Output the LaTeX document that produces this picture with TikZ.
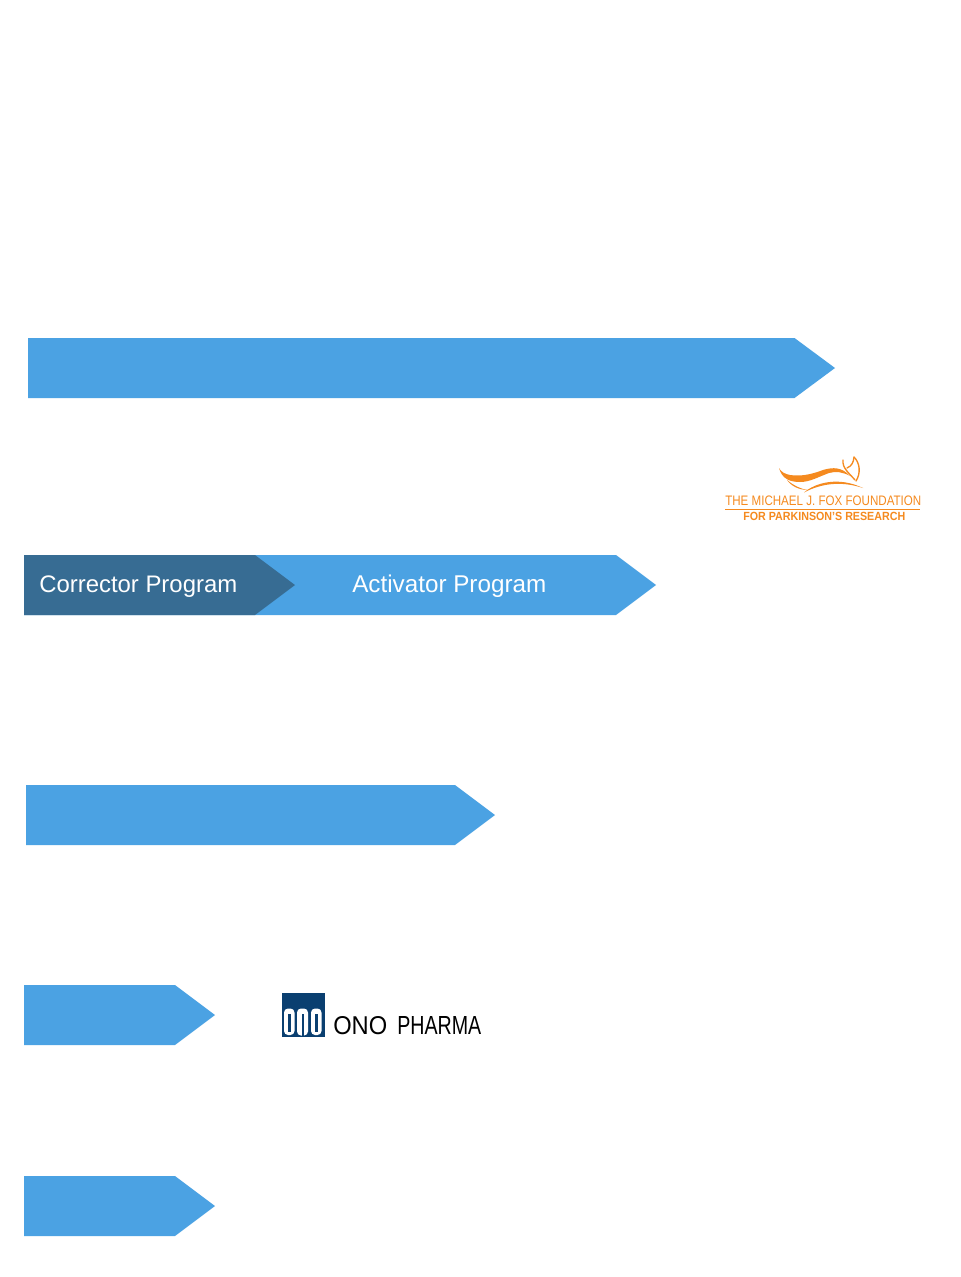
\documentclass[tikz,border=0pt]{standalone}
\usepackage{fontspec}
\setmainfont{Liberation Sans}
\definecolor{arrowblue}{HTML}{4BA2E3}
\definecolor{darkblue}{HTML}{376C93}
\definecolor{foxorange}{HTML}{F58A1F}
\definecolor{onoblue}{HTML}{0A3F70}
\begin{document}
\begin{tikzpicture}[x=0.75pt,y=-0.75pt,
  bar/.style={fill=arrowblue,draw=none},
  barlabel/.style={text=white,inner sep=0pt,anchor=base west,font=\fontsize{18}{20}\selectfont},
  logotext/.style={inner sep=0pt,anchor=base west},
  foxline/.style={draw=foxorange,line cap=round,line join=round,line width=1pt},
  onoshape/.style={fill=white,rounded corners=3pt},
  onoslit/.style={fill=onoblue}]
\useasboundingbox (0,0) rectangle (960,1277);
\fill[white] (0,0) rectangle (960,1277);
% bars
\path[bar] (28,338) -- (794.5,338) -- (835,368) -- (794.5,398) -- (28,398) -- cycle;
\path[bar] (24,555) -- (616,555) -- (656,585) -- (616,615) -- (24,615) -- cycle;
\path[fill=darkblue] (24,555) -- (255,555) -- (295,585) -- (255,615) -- (24,615) -- cycle;
\path[bar] (26,785) -- (455,785) -- (495,815) -- (455,845) -- (26,845) -- cycle;
\path[bar] (24,985) -- (175,985) -- (215,1015) -- (175,1045) -- (24,1045) -- cycle;
\path[bar] (24,1176) -- (175,1176) -- (215,1206) -- (175,1236) -- (24,1236) -- cycle;
\node[barlabel] (corrector) at (39,592) {\resizebox{148.5pt}{!}{Corrector Program}};
\node[barlabel] (activator) at (352,592) {\resizebox{145.5pt}{!}{Activator Program}};
% Fox logo: tail and body ribbons
\fill[foxorange] (779,468) .. controls (781,472) and (785,474) .. (790,475)
  .. controls (803,477) and (815,473) .. (823,470) .. controls (833,467) and (842,467) .. (850,476)
  .. controls (843,472) and (836,471) .. (829,473) .. controls (818,477) and (810,482) .. (800,482)
  .. controls (790,482) and (782,479) .. (779,468) -- cycle;
\fill[foxorange] (787,480) .. controls (793,485) and (800,489) .. (808,490) .. controls (799,490) and (791,486) .. (787,480) -- cycle;
\fill[foxorange] (804,492.5) .. controls (815,483) and (838,476) .. (863,488) .. controls (842,481) and (822,483) .. (804,492.5) -- cycle;
% Fox logo: head
\draw[foxline] (843,460) .. controls (842,468) and (849,473) .. (855,480);
\draw[foxline] (854,457) .. controls (860,463) and (861,473) .. (856,481);
\draw[foxline] (854,457) .. controls (853.5,462) and (852,466) .. (847,468);
\node[logotext,text=foxorange] (foxname) at (725,505.5) {\resizebox{147pt}{7.2pt}{THE MICHAEL J. FOX FOUNDATION}};
\draw[foxorange,line width=0.45pt] (725,509.5) -- (920,509.5);
\node[logotext,text=foxorange] (foxsub) at (743,520.5) {\resizebox{121.5pt}{6.2pt}{\bfseries FOR PARKINSON’S RESEARCH}};
% ONO logo
\fill[onoblue] (282,993) rectangle (325,1037);
\path[onoshape] (284,1008.5) rectangle (294.5,1035);
\path[onoshape] (297,1035.5) -- (297,1008.5) -- (308,1008.5) -- (308,1035.5) -- cycle;
\path[onoshape] (311,1008.5) rectangle (321.5,1035);
\path[onoslit] (288,1014) rectangle (290.5,1032);
\path[onoslit] (301.5,1014) rectangle (303.5,1035.5);
\path[onoslit] (315,1014) rectangle (317.5,1032);
\node[logotext,text=black] (ono) at (333,1034.5) {\resizebox{40.5pt}{13.5pt}{ONO}};
\node[logotext,text=black] (pharma) at (397,1034.5) {\resizebox{63pt}{13.5pt}{PHARMA}};
\end{tikzpicture}
\end{document}
